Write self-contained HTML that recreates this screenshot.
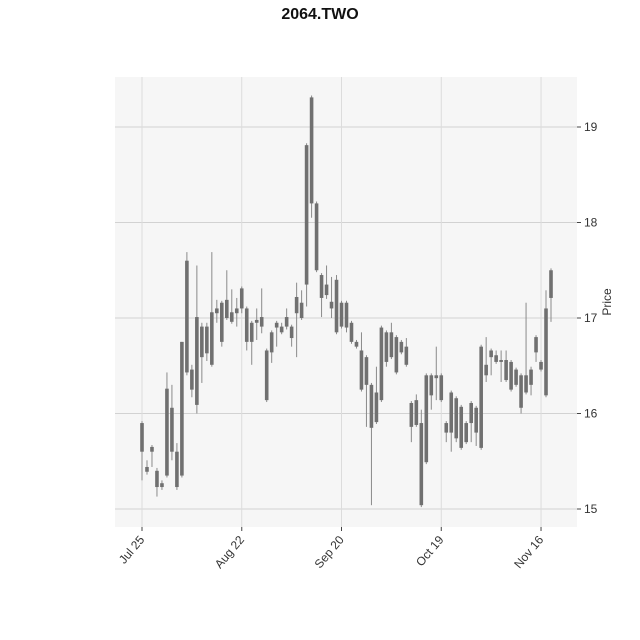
<!DOCTYPE html>
<html><head><meta charset="utf-8"><style>
html,body{margin:0;padding:0;background:#fff;}
svg{display:block;font-family:"Liberation Sans",sans-serif;}
</style></head><body>
<svg id="chart" width="640" height="640" viewBox="0 0 640 640" xmlns="http://www.w3.org/2000/svg">
<text x="320" y="19" text-anchor="middle" font-size="16" font-weight="bold" fill="#111">2064.TWO</text>
<rect x="115" y="77" width="462" height="450" fill="#f6f6f6"/>
<g id="grid"></g>
<g id="candles"></g>
<g id="axes"></g>
<text transform="translate(611,302) rotate(-90)" text-anchor="middle" font-size="12" fill="#333">Price</text>
</svg>
<script>
const opens=[15.90,15.44,15.65,15.40,15.27,16.26,16.06,15.60,16.75,17.60,16.46,17.01,16.91,16.91,17.06,17.10,17.16,17.19,17.06,17.10,17.31,17.10,16.95,16.98,17.01,16.66,16.85,16.95,16.91,17.01,16.91,17.22,17.16,18.81,19.31,18.20,17.45,17.35,17.17,17.40,17.16,17.16,16.95,16.75,16.66,16.59,16.30,16.22,16.90,16.85,16.85,16.80,16.75,16.70,16.11,16.14,15.90,16.40,16.40,16.40,16.40,15.90,16.22,16.16,16.07,15.90,16.11,16.06,16.70,16.51,16.66,16.61,16.56,16.56,16.54,16.46,16.40,16.40,16.46,16.80,16.54,17.10,17.50];
const closes=[15.60,15.39,15.60,15.23,15.23,15.35,15.60,15.23,15.35,16.43,16.25,16.09,16.59,16.63,16.51,17.05,16.75,17.00,16.96,17.05,17.10,16.75,16.75,16.95,16.91,16.14,16.64,16.90,16.85,16.91,16.79,17.05,17.00,17.35,18.20,17.50,17.21,17.24,17.10,16.85,16.91,16.90,16.75,16.70,16.25,16.30,15.85,15.91,16.14,16.54,16.59,16.43,16.64,16.51,15.86,15.88,15.04,15.49,16.19,16.37,16.14,15.80,15.80,15.74,15.64,15.70,15.90,15.80,15.64,16.40,16.59,16.54,16.54,16.35,16.25,16.30,16.06,16.22,16.30,16.64,16.46,16.19,17.21];
const highs=[15.92,15.51,15.67,15.43,15.30,16.43,16.30,15.69,16.75,17.69,16.51,17.55,16.95,16.95,17.69,17.19,17.18,17.50,17.30,17.21,17.33,17.12,16.97,17.10,17.31,16.68,16.87,16.97,16.95,17.10,16.93,17.37,17.29,18.83,19.33,18.22,17.47,17.55,17.43,17.45,17.18,17.18,16.97,16.77,16.85,16.61,16.32,16.49,16.92,16.87,16.95,16.82,16.77,16.79,16.13,16.20,16.04,16.42,16.42,16.70,16.42,15.92,16.24,16.18,16.09,15.92,16.13,16.08,16.72,16.80,16.68,16.66,16.66,16.66,16.56,16.48,16.42,17.16,16.49,16.82,16.56,17.29,17.52];
const lows=[15.30,15.36,15.44,15.13,15.20,15.33,15.51,15.20,15.33,16.40,16.17,16.00,16.32,16.55,16.49,16.95,16.70,16.98,16.94,16.91,17.05,16.66,16.51,16.77,16.84,16.12,16.53,16.70,16.83,16.88,16.70,16.59,16.98,17.12,18.05,17.48,17.01,17.20,17.00,16.83,16.89,16.85,16.73,16.68,16.23,15.86,15.04,15.89,16.12,16.49,16.57,16.41,16.62,16.49,15.70,15.86,15.02,15.47,16.04,16.14,16.12,15.70,15.60,15.70,15.62,15.68,15.70,15.66,15.62,16.33,16.40,16.52,16.33,16.33,16.23,16.28,16.00,16.20,16.19,16.54,16.44,16.17,16.96];
const yTicks=[15,16,17,18,19];
const xTickIdx=[0,20,40,60,80];
const xTickLabels=["Jul 25","Aug 22","Sep 20","Oct 19","Nov 16"];

const NS="http://www.w3.org/2000/svg";
const n=opens.length;
function xs(i){return 142+i*(409/(n-1));}
function ys(p){return 318-(p-17)*95.5;}
function mk(tag,attrs,parent){const e=document.createElementNS(NS,tag);for(const k in attrs)e.setAttribute(k,attrs[k]);parent.appendChild(e);return e;}
const grid=document.getElementById('grid'),cg=document.getElementById('candles'),ax=document.getElementById('axes');
yTicks.forEach(v=>{
  const y=ys(v);
  const l=mk('line',{x1:115,x2:577,y1:y,y2:y,stroke:'#d2d2d2','stroke-width':1},grid);
  
  
  mk('line',{x1:577,x2:581,y1:y,y2:y,stroke:'#444','stroke-width':1},ax);
  const t=mk('text',{x:584,y:y+4,'font-size':12,fill:'#333'},ax);
  t.textContent=String(v);
  
  
});
xTickIdx.forEach((idx,k)=>{
  const x=xs(idx);
  const l=mk('line',{x1:x,x2:x,y1:77,y2:527,stroke:'#dcdcdc','stroke-width':1},grid);
  
  
  mk('line',{x1:x,x2:x,y1:527,y2:531,stroke:'#444','stroke-width':1},ax);
  const t=mk('text',{transform:`translate(${x+3},${540}) rotate(-50)`,'text-anchor':'end','font-size':12,fill:'#333'},ax);
  t.textContent=xTickLabels[k];
  
  
});
for(let i=0;i<n;i++){
  const x=xs(i);
  const g=mk('g',{},cg);
  
  
  mk('line',{x1:x,x2:x,y1:ys(highs[i]),y2:ys(lows[i]),stroke:'#8a8a8a','stroke-width':1},g);
  const top=ys(Math.max(opens[i],closes[i])),bot=ys(Math.min(opens[i],closes[i]));
  mk('rect',{x:x-1.8,y:top,width:3.6,height:Math.max(1.5,bot-top),fill:'#707070'},g);
}
</script>
</body></html>
